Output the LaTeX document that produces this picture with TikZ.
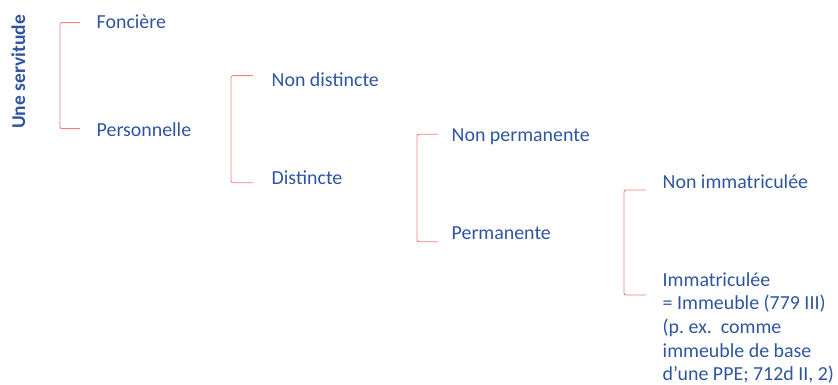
\documentclass[tikz,border=0pt]{standalone}
\usepackage{fontspec}
\setmainfont{Carlito}
\definecolor{txtblue}{RGB}{47,85,160}
\definecolor{brred}{RGB}{244,128,128}
\begin{document}
\begin{tikzpicture}[x=1pt,y=-1pt,
  lbl/.style={anchor=base west,inner sep=0pt,text=txtblue,font=\fontsize{19.9}{23.6}\selectfont},
  brk/.style={draw=brred,line width=0.9pt,rounded corners=2pt}]
\useasboundingbox (0,0) rectangle (838,385);
\node[lbl,font=\fontsize{19.5}{22}\selectfont\bfseries,rotate=90] (root) at (25,129) {Une servitude};
\node[lbl] (fon) at (96.5,28.3) {Foncière};
\node[lbl] (per) at (96.5,136.7) {Personnelle};
\node[lbl] (nd) at (271.5,86.7) {Non distincte};
\node[lbl] (di) at (271.5,184) {Distincte};
\node[lbl] (np) at (451.5,141.7) {Non permanente};
\node[lbl] (pe) at (451.5,239.3) {Permanente};
\node[lbl] (ni) at (662.5,188.3) {Non immatriculée};
\node[lbl,align=left] (im) at (662.5,380.6) {Immatriculée\\= Immeuble (779 III)\\(p.\ ex.\ \ comme\\immeuble de base\\d’une PPE; 712d II, 2)};
\coordinate (b1a) at (80,22.7); \coordinate (b1b) at (80,128.7);
\draw[brk] (b1a) -- (60,22.7) -- (60,128.7) -- (b1b);
\coordinate (b2a) at (253,75.7); \coordinate (b2b) at (253,182.7);
\draw[brk] (b2a) -- (231,75.7) -- (231,182.7) -- (b2b);
\coordinate (b3a) at (438,134.3); \coordinate (b3b) at (438,241.7);
\draw[brk] (b3a) -- (417,134.3) -- (417,241.7) -- (b3b);
\coordinate (b4a) at (646,190); \coordinate (b4b) at (646,295);
\draw[brk] (b4a) -- (624,190) -- (624,295) -- (b4b);
\end{tikzpicture}
\end{document}
